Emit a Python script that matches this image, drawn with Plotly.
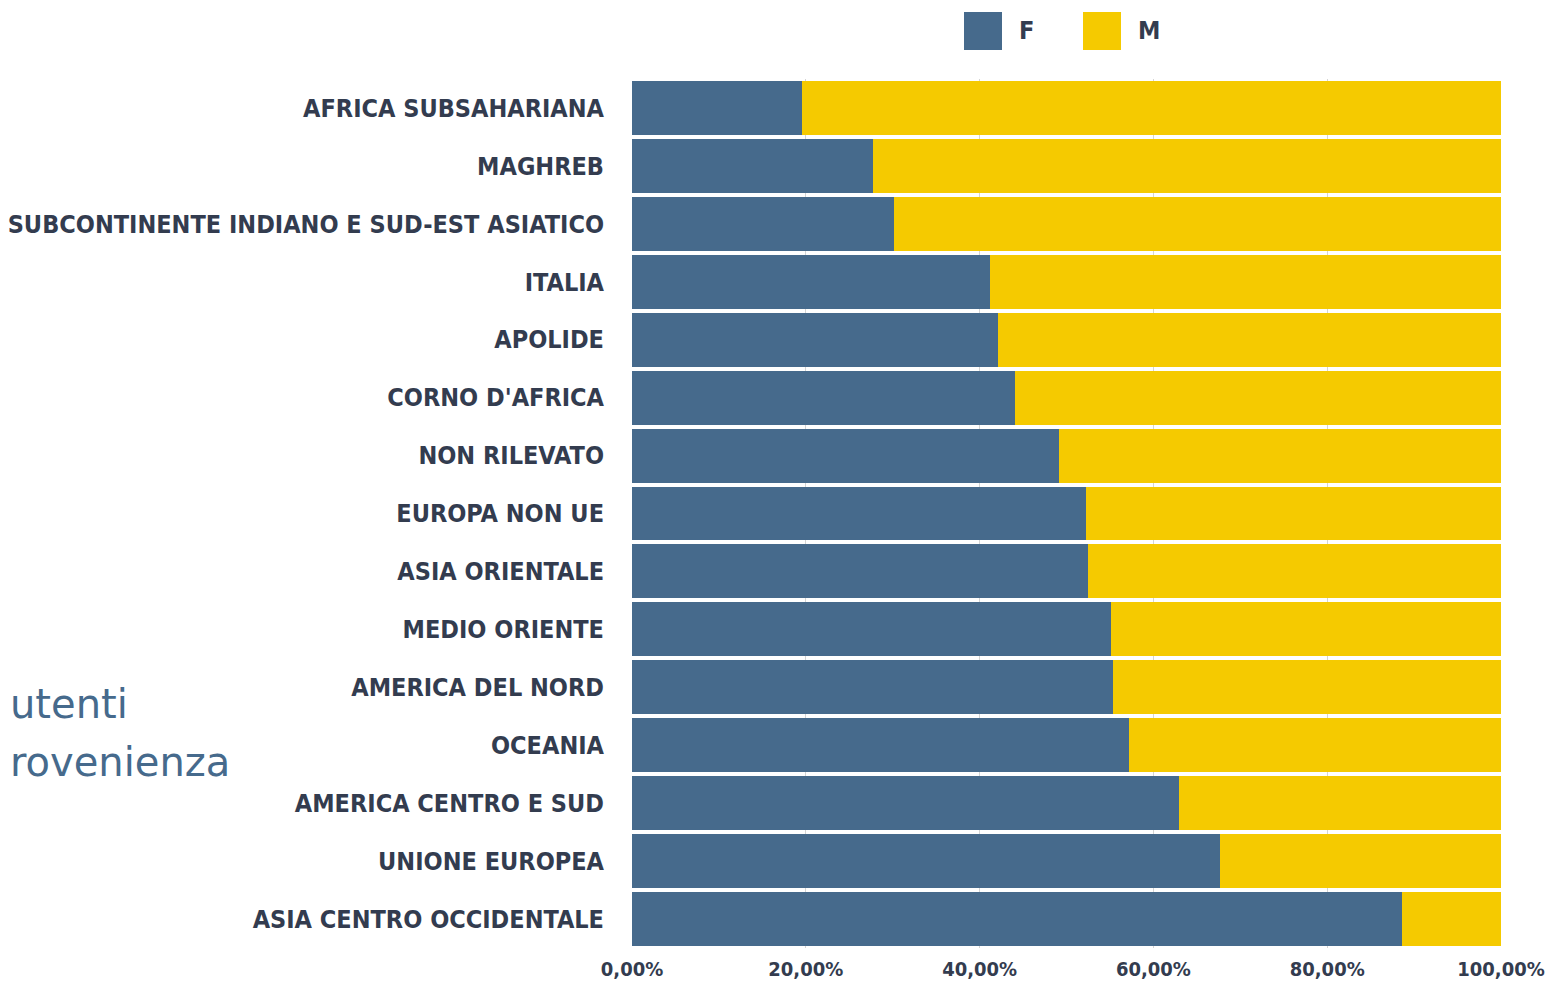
import plotly.graph_objects as go

categories = [
    "AFRICA SUBSAHARIANA", "MAGHREB", "SUBCONTINENTE INDIANO E SUD-EST ASIATICO",
    "ITALIA", "APOLIDE", "CORNO D'AFRICA", "NON RILEVATO", "EUROPA NON UE",
    "ASIA ORIENTALE", "MEDIO ORIENTE", "AMERICA DEL NORD", "OCEANIA",
    "AMERICA CENTRO E SUD", "UNIONE EUROPEA", "ASIA CENTRO OCCIDENTALE",
]
female = [0.196, 0.277, 0.302, 0.412, 0.421, 0.441, 0.491, 0.522,
          0.525, 0.551, 0.554, 0.572, 0.629, 0.677, 0.886]
male = [1 - f for f in female]
tick_vals = [0, 0.2, 0.4, 0.6, 0.8, 1.0]

BLUE = "#466a8c"
YELLOW = "#f5ca00"
DARK = "#333c4f"
LABEL_FONT = "DejaVu Sans Condensed"

W, H = 1539, 975
OX, OY = 8, 8  # page offset
L, R, T, B = 632 - OX, W - (1501 - OX), 79 - OY, H - (948 - OY)
PW, PH = W - L - R, H - T - B


def px(x):
    return (x - OX - L) / PW


def py(y):
    return (H - B - (y - OY)) / PH


fig = go.Figure()
fig.add_trace(go.Bar(y=categories, x=female, name="F", orientation="h",
                     marker=dict(color=BLUE, line=dict(width=0)), showlegend=False))
fig.add_trace(go.Bar(y=categories, x=male, name="M", orientation="h",
                     marker=dict(color=YELLOW, line=dict(width=0)), showlegend=False))

fig.update_layout(
    barmode="stack",
    bargap=0.07,
    width=W, height=H,
    margin=dict(l=L, r=R, t=T, b=B, pad=0, autoexpand=False),
    plot_bgcolor="white", paper_bgcolor="white",
    separators=",.",
    xaxis=dict(range=[0, 1], tickvals=tick_vals, tickformat=".2%",
               showgrid=True, gridcolor="#d4d4d4", gridwidth=1, zeroline=False,
               automargin=False, ticklabeloverflow="allow",
               tickfont=dict(family=LABEL_FONT, size=20, color=DARK, weight="bold"),
               ticklabelstandoff=7),
    yaxis=dict(autorange="reversed", showgrid=False, automargin=False,
               tickfont=dict(family=LABEL_FONT, size=25, color=DARK, weight="bold"),
               ticklabelstandoff=27),
)

# legend drawn as header keys
fig.add_shape(type="rect", xref="paper", yref="paper",
              x0=px(964), x1=px(1002), y0=py(50), y1=py(12),
              fillcolor=BLUE, line=dict(width=0))
fig.add_shape(type="rect", xref="paper", yref="paper",
              x0=px(1083), x1=px(1121), y0=py(50), y1=py(12),
              fillcolor=YELLOW, line=dict(width=0))
for txt, xx in [("F", 1017), ("M", 1136)]:
    fig.add_annotation(text=txt, xref="paper", yref="paper",
                       x=px(xx), y=py(31),
                       xanchor="left", yanchor="middle", showarrow=False,
                       font=dict(family=LABEL_FONT, size=25, color=DARK, weight="bold"))

# partial side title
fig.add_annotation(text="utenti", xref="paper", yref="paper",
                   x=px(8), y=py(704),
                   xanchor="left", yanchor="middle", showarrow=False,
                   font=dict(family="DejaVu Sans", size=40, color=BLUE, weight=400))
fig.add_annotation(text="rovenienza", xref="paper", yref="paper",
                   x=px(8), y=py(762),
                   xanchor="left", yanchor="middle", showarrow=False,
                   font=dict(family="DejaVu Sans", size=40, color=BLUE, weight=400))

fig.write_html("out.html")
